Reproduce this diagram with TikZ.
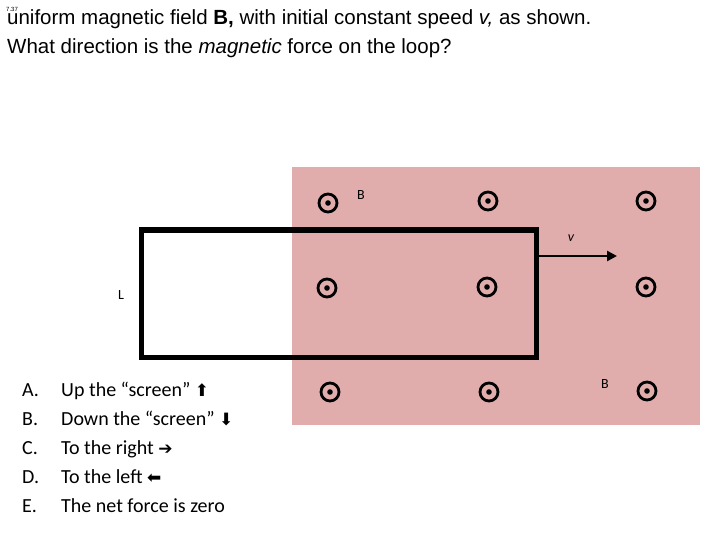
\documentclass[tikz,border=0pt]{standalone}
\usepackage{fontspec}
\usetikzlibrary{arrows.meta}
\setmainfont{Liberation Sans}
\newfontfamily\calfont{Carlito}
\newfontfamily\dvfont{DejaVu Sans}
\begin{document}
\begin{tikzpicture}[x=1pt,y=-1pt,
  dotb/.style={circle,draw,line width=2.8pt,minimum size=18pt,inner sep=0pt,
    path picture={\fill (path picture bounding box.center) circle (2.8pt);}},
  ans/.style={anchor=base west,font=\calfont\fontsize{20}{24}\selectfont,inner sep=0pt},
  lab/.style={font=\calfont\fontsize{14}{16}\selectfont}]
\useasboundingbox (0,0) rectangle (720,540);
\fill[fill={rgb,255:red,224;green,172;blue,172}] (292,167) rectangle (700,425);
\node[anchor=west,font=\fontsize{6}{7}\selectfont,inner sep=0pt] (num) at (6,9) {7.37};
\node[anchor=base west,align=left,inner sep=0pt,font=\fontsize{20.5}{29}\selectfont] (q) at (7,54)
 {One end of rectangular metal loop enters a region of constant\\
  uniform magnetic field \textbf{B,} with initial constant speed \textit{v,} as shown.\\
  What direction is the \textit{magnetic} force on the loop?};
\foreach \x/\y [count=\i] in {328/203,488/201,646/201,327/288,487/287,646/287,330/392,489/392,647/391}
  \node[dotb] (d\i) at (\x,\y) {};
\node[lab] (b1) at (361,195) {B};
\node[lab] (b2) at (605,384) {B};
\node[lab,font=\calfont\itshape\fontsize{14}{16}\selectfont] (v) at (571,238) {v};
\node[lab] (L) at (121,295) {L};
\draw[line width=5pt] (141,230) rectangle (536,357);
\coordinate (vs) at (538,256); \coordinate (ve) at (617,256);
\draw[line width=2.5pt,-{Triangle[length=10pt,width=10pt]}] (vs) -- (ve);
\foreach \l/\t/\y in {A./{Up the “screen” {\dvfont\fontsize{17}{20}\selectfont ⬆}}/396,B./{Down the “screen” {\dvfont\fontsize{17}{20}\selectfont ⬇}}/425,C./{To the right {\dvfont\fontsize{17}{20}\selectfont ➔}}/454,D./{To the left {\dvfont\fontsize{17}{20}\selectfont ⬅}}/483,E./{The net force is zero}/512}{
  \node[ans] at (22,\y) {\l};
  \node[ans] at (61,\y) {\t};}
\end{tikzpicture}
\end{document}
